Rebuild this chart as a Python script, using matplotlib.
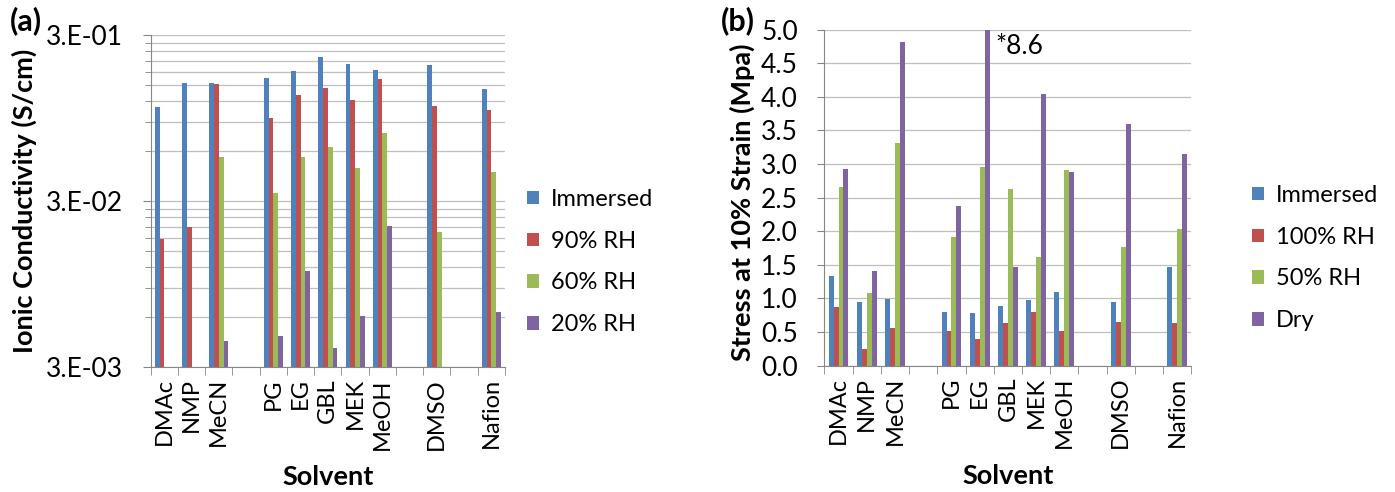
import numpy as np
import matplotlib
matplotlib.use('Agg')
import matplotlib.pyplot as plt
from matplotlib.ticker import FixedLocator, NullFormatter

plt.rcParams['font.family'] = ['Lato', 'DejaVu Sans']

# solvent slots, empty strings are the gaps in the Excel chart
solvents = ['DMAc', 'NMP', 'MeCN', '', 'PG', 'EG', 'GBL', 'MEK', 'MeOH', '', 'DMSO', '', 'Nafion']
nan = np.nan

# (a) ionic conductivity, S/cm
cond_labels = ['Immersed', '90% RH', '60% RH', '20% RH']
cond_immersed = [0.111, 0.154, 0.154, nan, 0.164, 0.182, 0.220, 0.201, 0.185, nan, 0.197, nan, 0.141]
cond_rh90 = [0.0176, 0.0209, 0.151, nan, 0.0949, 0.131, 0.144, 0.122, 0.162, nan, 0.112, nan, 0.106]
cond_rh60 = [nan, nan, 0.0555, nan, 0.0336, 0.055, 0.0632, 0.0472, 0.0767, nan, 0.0194, nan, 0.0447]
cond_rh20 = [nan, nan, 0.00431, nan, 0.00464, 0.0114, 0.00392, 0.00607, 0.0213, nan, nan, nan, 0.00641]

# (b) stress at 10% strain, MPa
stress_labels = ['Immersed', '100% RH', '50% RH', 'Dry']
stress_immersed = [1.33, 0.94, 0.99, nan, 0.80, 0.78, 0.89, 0.97, 1.095, nan, 0.94, nan, 1.47]
stress_rh100 = [0.877, 0.25, 0.565, nan, 0.52, 0.39, 0.64, 0.80, 0.52, nan, 0.65, nan, 0.64]
stress_rh50 = [2.65, 1.085, 3.315, nan, 1.92, 2.95, 2.62, 1.61, 2.91, nan, 1.765, nan, 2.03]
stress_dry = [2.93, 1.41, 4.82, nan, 2.37, 8.6, 1.47, 4.04, 2.885, nan, 3.60, nan, 3.15]

colors = ['#4F81BD', '#C0504D', '#9BBB59', '#8064A2']
FS = 17       # legend / x tick labels
FS_Y = 19     # y tick labels
FS_LAB = 19.5 # bold axis titles
GRID = '#BFBFBF'
AXC = '#868686'

fig = plt.figure(figsize=(13.95, 4.92), dpi=100)
ax1 = fig.add_axes([0.108, 0.254, 0.254, 0.675])
ax2 = fig.add_axes([0.591, 0.257, 0.263, 0.683])

n = len(solvents)
x = np.arange(n) + 0.5
w = 0.175
offs = (np.arange(4) - 1.5) * w


def style_axes(ax):
	ax.set_xlim(0, n)
	for s in ['top', 'right']:
		ax.spines[s].set_visible(False)
	for s in ['left', 'bottom']:
		ax.spines[s].set_color(AXC)
	ax.set_axisbelow(True)
	ax.xaxis.set_major_locator(FixedLocator(x))
	ax.set_xticklabels(solvents, rotation=90, fontsize=FS)
	ax.tick_params(axis='x', which='major', length=0, pad=8)
	ax.xaxis.set_minor_locator(FixedLocator(np.arange(n + 1)))
	ax.tick_params(axis='x', which='minor', length=6, color=AXC)
	ax.tick_params(axis='y', which='both', color=AXC, labelsize=FS_Y)
	ax.set_xlabel('Solvent', fontsize=FS_LAB, fontweight='bold', labelpad=11)


# ---- (a)
YMIN, YMAX = 3e-3, 3e-1
ax1.set_yscale('log')
series = [cond_immersed, cond_rh90, cond_rh60, cond_rh20]
for k, vals in enumerate(series):
	vals = np.array(vals)
	ax1.bar(x + offs[k], vals - YMIN, w, bottom=YMIN, color=colors[k], label=cond_labels[k])
ax1.set_ylim(YMIN, YMAX)
ax1.yaxis.set_major_locator(FixedLocator([3e-3, 3e-2, 3e-1]))
ax1.set_yticklabels(['3.E-03', '3.E-02', '3.E-01'])
minors = [d * k for d in [3e-3, 3e-2] for k in range(2, 10)]
ax1.yaxis.set_minor_locator(FixedLocator(minors))
ax1.yaxis.set_minor_formatter(NullFormatter())
ax1.tick_params(axis='y', which='major', length=6, pad=14)
ax1.tick_params(axis='y', which='minor', length=4)
ax1.grid(True, axis='y', which='both', color=GRID, lw=0.9)
style_axes(ax1)
ax1.set_ylabel('Ionic Conductivity (S/cm)', fontsize=FS_LAB, fontweight='bold')
ax1.yaxis.set_label_coords(-0.322, 0.5)

# ---- (b)
series = [stress_immersed, stress_rh100, stress_rh50, stress_dry]
for k, vals in enumerate(series):
	ax2.bar(x + offs[k], vals, w, color=colors[k], label=stress_labels[k])
ax2.set_ylim(0, 5)
ticks = np.arange(0, 5.01, 0.5)
ax2.set_yticks(ticks)
ax2.set_yticklabels(['%.1f' % v for v in ticks])
ax2.tick_params(axis='y', which='major', length=5, pad=14)
ax2.grid(True, axis='y', which='major', color=GRID, lw=0.9)
style_axes(ax2)
ax2.set_ylabel('Stress at 10% Strain (Mpa)', fontsize=FS_LAB, fontweight='bold')
ax2.yaxis.set_label_coords(-0.19, 0.485)
eg = solvents.index('EG')
ax2.text(x[eg] + offs[3] + 0.3, 4.74, '*%.1f' % stress_dry[eg], fontsize=FS_Y, va='center', ha='left')

for ax, anchor in [(ax1, (1.062, 0.316)), (ax2, (1.166, 0.32))]:
	h, l = ax.get_legend_handles_labels()
	ax.legend(h, l, loc='center left', bbox_to_anchor=anchor, frameon=False, fontsize=FS,
		handlelength=0.5, handleheight=0.5, handletextpad=0.5, labelspacing=0.88,
		borderaxespad=0, borderpad=0)

fig.text(0.007, 0.958, '(a)', fontsize=22, fontweight='bold', va='center')
fig.text(0.517, 0.958, '(b)', fontsize=22, fontweight='bold', va='center')

fig.savefig('out.png', dpi=100)
